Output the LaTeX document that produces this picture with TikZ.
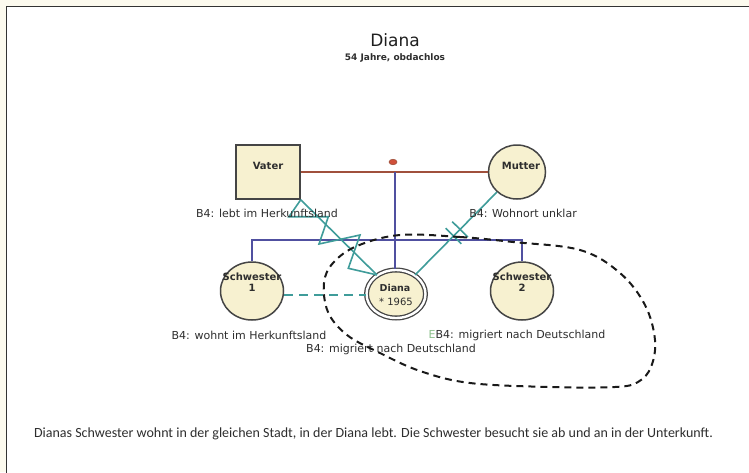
\documentclass[tikz,border=0pt]{standalone}
\usepackage{fontspec}
\setmainfont{DejaVu Sans}
\newfontfamily\calfont{Carlito}
\usetikzlibrary{calc,shapes.geometric}
\definecolor{bgcream}{HTML}{FCFAEE}
\definecolor{framec}{HTML}{333333}
\definecolor{nodefill}{HTML}{F7F1D0}
\definecolor{nodedraw}{HTML}{454545}
\definecolor{marrc}{HTML}{A0503C}
\definecolor{marrsym}{HTML}{D0503A}
\definecolor{bluec}{HTML}{5050A0}
\definecolor{tealc}{HTML}{3F9C9A}
\definecolor{labgray}{HTML}{2E2E2E}
\definecolor{egreen}{HTML}{8CC08C}
\tikzset{
  person/.style={draw=nodedraw, line width=1.5pt, fill=nodefill, inner sep=0pt},
  nametext/.style={font=\bfseries\fontsize{10}{12}\selectfont, text=labgray, align=center, inner sep=0pt},
  labtext/.style={font=\fontsize{11}{13}\selectfont, text=labgray, inner sep=0pt},
  marrline/.style={draw=marrc, line width=1.6pt},
  childline/.style={draw=bluec, line width=1.6pt},
  relline/.style={draw=tealc, line width=1.6pt},
  loopline/.style={draw=black!90, line width=2pt, dash pattern=on 7pt off 5pt}
}
\begin{document}
\begin{tikzpicture}[x=1pt,y=-1pt]
\fill[bgcream] (0,0) rectangle (749,472);
\useasboundingbox (0,0) rectangle (749,472);
\fill[white] (6.5,6.5) rectangle (760,480);
\draw[framec, line width=1.8pt] (6.5,480) -- (6.5,6.5) -- (760,6.5);

% title
\node[font=\fontsize{17}{20}\selectfont, text=black!88, inner sep=0pt] (title) at (395,40) {Diana};
\node[font=\bfseries\fontsize{9}{11}\selectfont, text=labgray, inner sep=0pt] (sub) at (395,58) {54 Jahre, obdachlos};

% persons
\node[person, rectangle, minimum width=64pt, minimum height=54pt] (vater) at (268,172) {};
\node[person, ellipse, minimum width=57pt, minimum height=54pt] (mutter) at (517,172) {};
\node[person, ellipse, minimum width=63pt, minimum height=58pt] (s1) at (252,291) {};
\node[person, ellipse, minimum width=63pt, minimum height=58pt] (s2) at (522,291) {};
\node[person, ellipse, line width=1.3pt, double=white, double distance=2.4pt, minimum width=59pt, minimum height=48pt] (diana) at (396,294) {};

% marriage
\node[ellipse, fill=marrsym, draw=marrc, line width=0.6pt, minimum width=8pt, minimum height=5.5pt, inner sep=0pt] (msym) at (393,162) {};
\draw[marrline] (vater.east |- 0,172) -- (mutter.west);
\coordinate (mc) at (395,172);
\coordinate (sib) at (0,240);
\draw[childline] (mc) -- (mc |- diana.north);
\draw[childline] (s1.north) -- (s1.north |- sib) -- (s2.north |- sib) -- (s2.north);

% relationship lines
\coordinate (zA) at (vater.south east);
\coordinate (zG) at (diana.135);
\draw[relline] (zA) -- (zG);
\draw[relline, line join=miter] (zA) -- (289,216.7) -- (328.3,216.7) -- (319,244) -- (360,235) -- (348.3,268.3) -- (zG);
\coordinate (mA) at (mutter.225);
\coordinate (dA) at (diana.45);
\draw[relline] (mA) -- (dA);
\draw[relline] ($(mA)!0.45!(dA)!11pt!90:(dA)$) -- ($(mA)!0.45!(dA)!11pt!-90:(dA)$);
\draw[relline] ($(mA)!0.53!(dA)!11pt!90:(dA)$) -- ($(mA)!0.53!(dA)!11pt!-90:(dA)$);
\draw[relline, dash pattern=on 9pt off 6pt] (s1.east |- 0,295) -- (diana.west |- 0,295);

% names
\node[nametext] (tv) at (268,166) {Vater};
\node[nametext] (tm) at (521,166) {Mutter};
\node[nametext] (ts1) at (252,282) {Schwester\\[-1pt]1};
\node[nametext] (ts2) at (522,282) {Schwester\\[-1pt]2};
\node[nametext, font=\bfseries\fontsize{9.5}{11}\selectfont] (td) at (395,288) {Diana};
\node[labtext, font=\fontsize{10}{12}\selectfont] (td2) at (396,302) {* 1965};

% labels
\node[labtext] (l1) at (267,213) {B4: lebt im Herkunftsland};
\node[labtext] (l2) at (523,213) {B4: Wohnort unklar};
\node[labtext] (l3) at (249,335) {B4: wohnt im Herkunftsland};
\node[labtext] (l4) at (517,335) {\textcolor{egreen}{E}B4: migriert nach Deutschland};
\node[labtext] (l5) at (391,349) {B4: migriert nach Deutschland};

% dashed loop
\draw[loopline] plot[smooth cycle, tension=0.6] coordinates {
 (400,235) (460,237) (513,242) (580,250) (620,273) (645,305) (655,340)
 (651,367) (638,382) (615,387) (550,387) (470,383) (420,371) (380,353) (347,335)
 (328,312) (324,283) (333,263) (357,246)};

% bottom text
\node[font=\calfont\fontsize{14}{16}\selectfont, text=labgray, inner sep=0pt] (bottom) at (373.5,434) {Dianas Schwester wohnt in der gleichen Stadt, in der Diana lebt. Die Schwester besucht sie ab und an in der Unterkunft.};
\end{tikzpicture}
\end{document}
